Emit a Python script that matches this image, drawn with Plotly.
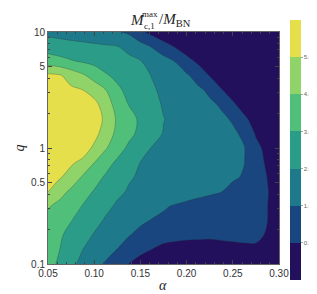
import numpy as np
import plotly.graph_objects as go

# grid coordinates
alpha = [0.05, 0.0625, 0.075, 0.0875, 0.10, 0.1125, 0.125, 0.1375, 0.15, 0.1625, 0.175,
         0.1875, 0.20, 0.2125, 0.225, 0.2375, 0.25, 0.2625, 0.275, 0.2875, 0.30]
q = [0.1, 0.1334, 0.1778, 0.2371, 0.3162, 0.4217, 0.5623, 0.7499, 1.0, 1.3335, 1.7783,
     2.3714, 3.1623, 4.2170, 5.6234, 7.4989, 10.0]

# M_c,1^max / M_BN, one row per q value
r_q0100 = [3.30, 2.86, 2.24, 1.74, 1.32, 0.95, 0.72, 0.495, 0.26, 0.20, 0.15, 0.15, 0.15, 0.15, 0.15, 0.15, 0.15, 0.15, 0.15, 0.15, 0.15]
r_q0133 = [3.40, 3.01, 2.51, 2.01, 1.66, 1.32, 0.99, 0.83, 0.66, 0.495, 0.30, 0.30, 0.30, 0.30, 0.30, 0.30, 0.30, 0.30, 0.30, 0.25, 0.20]
r_q0178 = [3.50, 3.12, 2.73, 2.32, 1.94, 1.64, 1.34, 1.04, 0.89, 0.83, 0.79, 0.66, 0.61, 0.60, 0.58, 0.62, 0.68, 0.75, 0.75, 0.39, 0.25]
r_q0237 = [3.75, 3.39, 3.03, 2.64, 2.25, 1.91, 1.65, 1.40, 1.14, 0.98, 0.93, 0.89, 0.84, 0.79, 0.74, 0.70, 0.65, 0.60, 0.55, 0.505, 0.28]
r_q0316 = [4.10, 3.70, 3.33, 2.97, 2.58, 2.19, 1.89, 1.69, 1.49, 1.29, 1.08, 0.97, 0.91, 0.85, 0.80, 0.74, 0.68, 0.62, 0.57, 0.505, 0.29]
r_q0422 = [5.03, 4.39, 3.80, 3.36, 2.94, 2.55, 2.16, 1.93, 1.82, 1.71, 1.59, 1.48, 1.36, 1.25, 1.14, 1.02, 0.90, 0.77, 0.65, 0.52, 0.30]
r_q0562 = [5.30, 5.10, 4.63, 3.90, 3.37, 2.88, 2.48, 2.07, 1.92, 1.81, 1.71, 1.61, 1.50, 1.40, 1.30, 1.19, 1.09, 0.97, 0.73, 0.49, 0.25]
r_q0750 = [5.50, 5.31, 5.13, 4.77, 4.01, 3.37, 2.83, 2.40, 1.99, 1.88, 1.78, 1.67, 1.56, 1.45, 1.34, 1.23, 1.12, 1.01, 0.71, 0.42, 0.18]
r_q1000 = [5.70, 5.51, 5.33, 5.50, 4.81, 4.08, 3.42, 2.82, 2.33, 1.96, 1.85, 1.73, 1.61, 1.50, 1.38, 1.26, 1.15, 1.03, 0.65, 0.34, 0.10]
r_q1334 = [5.80, 5.62, 5.44, 5.25, 5.34, 4.49, 3.77, 3.25, 2.77, 2.33, 1.96, 1.82, 1.68, 1.54, 1.40, 1.26, 1.12, 0.93, 0.45, 0.21, 0.0]
r_q1778 = [5.85, 5.67, 5.50, 5.32, 5.50, 4.79, 3.85, 3.33, 2.85, 2.43, 2.02, 1.84, 1.67, 1.49, 1.32, 1.15, 0.96, 0.58, 0.32, 0.08, 0.0]
r_q2371 = [5.75, 5.58, 5.41, 5.23, 5.33, 4.44, 3.65, 2.97, 2.61, 2.24, 1.93, 1.74, 1.55, 1.36, 1.16, 0.95, 0.57, 0.31, 0.07, 0.0, 0.0]
r_q3162 = [5.50, 5.34, 5.17, 5.01, 4.52, 4.01, 3.18, 2.75, 2.42, 2.10, 1.85, 1.62, 1.40, 1.17, 0.91, 0.53, 0.29, 0.05, 0.0, 0.0, 0.0]
r_q4217 = [5.20, 5.10, 4.60, 4.14, 3.64, 3.10, 2.78, 2.51, 2.24, 1.97, 1.69, 1.40, 1.12, 0.81, 0.48, 0.24, 0.0, 0.0, 0.0, 0.0, 0.0]
r_q5623 = [3.50, 3.28, 3.06, 2.88, 2.71, 2.54, 2.37, 2.20, 2.03, 1.70, 1.34, 0.985, 0.67, 0.40, 0.16, 0.0, 0.0, 0.0, 0.0, 0.0, 0.0]
r_q7499 = [2.50, 2.42, 2.34, 2.27, 2.19, 2.11, 2.03, 1.75, 1.34, 0.97, 0.72, 0.47, 0.23, 0.0, 0.0, 0.0, 0.0, 0.0, 0.0, 0.0, 0.0]
r_q10000 = [1.75, 1.64, 1.53, 1.42, 1.30, 1.19, 1.08, 0.92, 0.61, 0.35, 0.11, 0.0, 0.0, 0.0, 0.0, 0.0, 0.0, 0.0, 0.0, 0.0, 0.0]

levels = [0.5, 1.0, 2.0, 3.0, 4.0, 5.0]
level_labels = ["0.5", "1.0", "2.0", "3.0", "4.0", "5.0"]
band_colors = ["#23105c", "#19467f", "#1e7a8b", "#2a9c88", "#50bf7a", "#90d368", "#e6df4c"]

rows = [r_q0100, r_q0133, r_q0178, r_q0237, r_q0316, r_q0422, r_q0562, r_q0750, r_q1000,
        r_q1334, r_q1778, r_q2371, r_q3162, r_q4217, r_q5623, r_q7499, r_q10000]
Z = np.array(rows)
# map the non-uniform contour levels onto equally spaced band indices
nb = len(band_colors)
band = np.interp(Z, [0.0] + levels + [6.0], list(range(nb + 1)))

W, H = 317, 294
L, R, T, B = 40, 275, 24, 256


def px(xp):
    return (xp - L) / (R - L)


def py(yp):
    return (B - yp) / (B - T)


cscale = [[i / (nb - 1), c] for i, c in enumerate(band_colors)]
step_scale = []
for i, c in enumerate(band_colors):
    step_scale += [[i / nb, c], [(i + 1) / nb, c]]

fig = go.Figure()
fig.add_trace(go.Contour(
    x=alpha, y=q, z=band,
    contours=dict(start=1, end=len(levels), size=1, coloring="fill"),
    line=dict(width=0.6, color="rgba(40,40,40,0.45)", smoothing=0.9),
    colorscale=cscale, showscale=False,
    hoverinfo="skip",
))
# colour key with seven equal bands
fig.add_trace(go.Scatter(
    x=[alpha[0]], y=[q[0]], mode="markers", hoverinfo="skip",
    marker=dict(size=1, opacity=0, color=[0], cmin=0, cmax=nb, colorscale=step_scale, showscale=True,
                colorbar=dict(
                    tickvals=list(range(1, len(levels) + 1)), ticktext=level_labels,
                    tickfont=dict(size=6, color="#666", family="Liberation Sans"),
                    ticks="outside", ticklen=2, tickcolor="#aaa",
                    thickness=11, lenmode="pixels", len=260,
                    x=px(286), xanchor="left", y=py(12), yanchor="top",
                    xpad=0, ypad=0, outlinewidth=0,
                )),
))

axis_common = dict(showline=True, linecolor="#666", linewidth=1, mirror="allticks",
                   ticks="inside", ticklen=4, tickcolor="#444", showgrid=False, zeroline=False,
                   tickfont=dict(size=10, color="#333", family="Liberation Sans"))

x_ticks = [0.05, 0.10, 0.15, 0.20, 0.25, 0.30]
fig.update_xaxes(range=[0.05, 0.30], tickvals=x_ticks, ticktext=["0.05", "0.10", "0.15", "0.20", "0.25", "0.30"],
                 minor=dict(dtick=0.01, ticks="inside", ticklen=2, tickcolor="#444"), **axis_common)
fig.update_yaxes(type="log", range=[-1, 1], tickvals=[0.1, 0.5, 1, 5, 10], ticktext=["0.1", "0.5", "1", "5", "10"],
                 minor=dict(tickvals=[0.2, 0.3, 0.4, 0.6, 0.7, 0.8, 0.9, 2, 3, 4, 6, 7, 8, 9],
                            ticks="inside", ticklen=2, tickcolor="#444"), **axis_common)

serif = "Liberation Serif"
ann = [
    dict(text="<i>M</i>", x=px(131), y=py(12), font=dict(size=15, family=serif, color="#222")),
    dict(text="max", x=px(144), y=py(6), font=dict(size=9, family=serif, color="#222")),
    dict(text="c,1", x=px(143), y=py(18), font=dict(size=9, family=serif, color="#222")),
    dict(text="/<i>M</i><sub>BN</sub>", x=px(151), y=py(12), xanchor="left",
         font=dict(size=15, family=serif, color="#222")),
    dict(text="<i>α</i>", x=px(157), y=py(277), font=dict(size=14, family=serif, color="#222")),
    dict(text="<i>q</i>", x=px(10), y=py(140), textangle=-90, font=dict(size=14, family=serif, color="#222")),
]
for a in ann:
    a.setdefault("xanchor", "center")
    a.update(xref="paper", yref="paper", yanchor="middle", showarrow=False)

fig.update_layout(width=W, height=H, margin=dict(l=L, r=W - R, t=T, b=H - B),
                  paper_bgcolor="white", plot_bgcolor="white", annotations=ann, showlegend=False)

fig.write_html("out.html")
